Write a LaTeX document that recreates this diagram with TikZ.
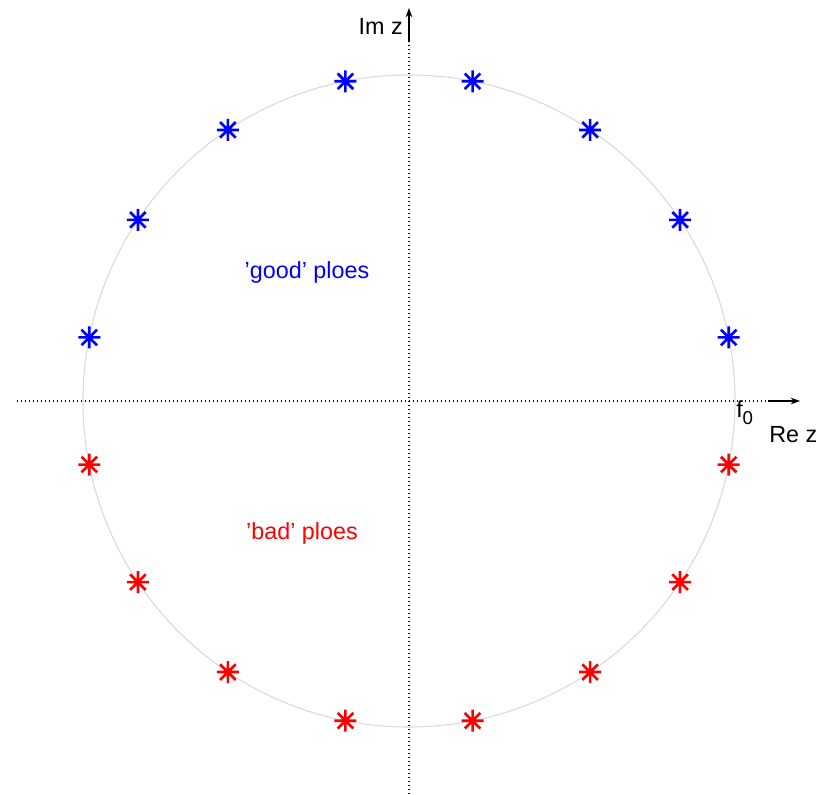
\documentclass[tikz,border=0pt]{standalone}
\usepackage{fontspec}
\setmainfont{Liberation Sans}
\usetikzlibrary{arrows.meta}
\tikzset{
  axisline/.style={black, line width=0.8pt, dash pattern=on 0.8pt off 2.2pt},
  axisarrow/.style={-{Stealth[length=7pt,width=5pt]}, black, line width=0.9pt},
  unitcircle/.style={gray!30, line width=0.8pt},
  polestar/.style={line width=2pt},
  label/.style={inner sep=0pt, font=\fontsize{17.5}{21}\selectfont},
}
\begin{document}
\begin{tikzpicture}[x=0.75pt, y=0.75pt]
  \useasboundingbox (-409,-393) rectangle (410,401);
  % unit circle
  \draw[unitcircle] (0,0) circle (326);

  % axes
  \coordinate (xs) at (-392,0);
  \coordinate (xm) at (359,0);
  \coordinate (xe) at (391,0);
  \coordinate (ys) at (0,-393);
  \coordinate (ym) at (0,359);
  \coordinate (ye) at (0,393);
  \draw[axisline] (xs) -- (xm);
  \draw[axisarrow] (xm) -- (xe);
  \draw[axisline] (ys) -- (ym);
  \draw[axisarrow] (ym) -- (ye);

  % axis labels
  \node[label, anchor=base east] (imz) at (-6,367) {Im z};
  \node[label, anchor=base west] (rez) at (360,-41) {Re z};
  \node[label, anchor=base west] (fnull) at (327,-16)
    {f\raisebox{-0.3em}{\fontsize{14}{14}\selectfont 0}};

  % poles
  \foreach \k in {0,...,15} {
    \pgfmathsetmacro{\ang}{11.25+22.5*\k}
    \ifnum\k<8 \def\pc{blue}\else\def\pc{red}\fi
    \begin{scope}[shift={(\ang:326)}]
      \draw[polestar, draw=\pc] (-11,0) -- (11,0) (0,-11) -- (0,11)
        (-7.8,-7.8) -- (7.8,7.8) (-7.8,7.8) -- (7.8,-7.8);
    \end{scope}
  }

  % region labels
  \node[label, anchor=base, text=blue] (good) at (-102,123) {'good' ploes};
  \node[label, anchor=base, text=red] (bad) at (-107,-138) {'bad' ploes};
\end{tikzpicture}
\end{document}
